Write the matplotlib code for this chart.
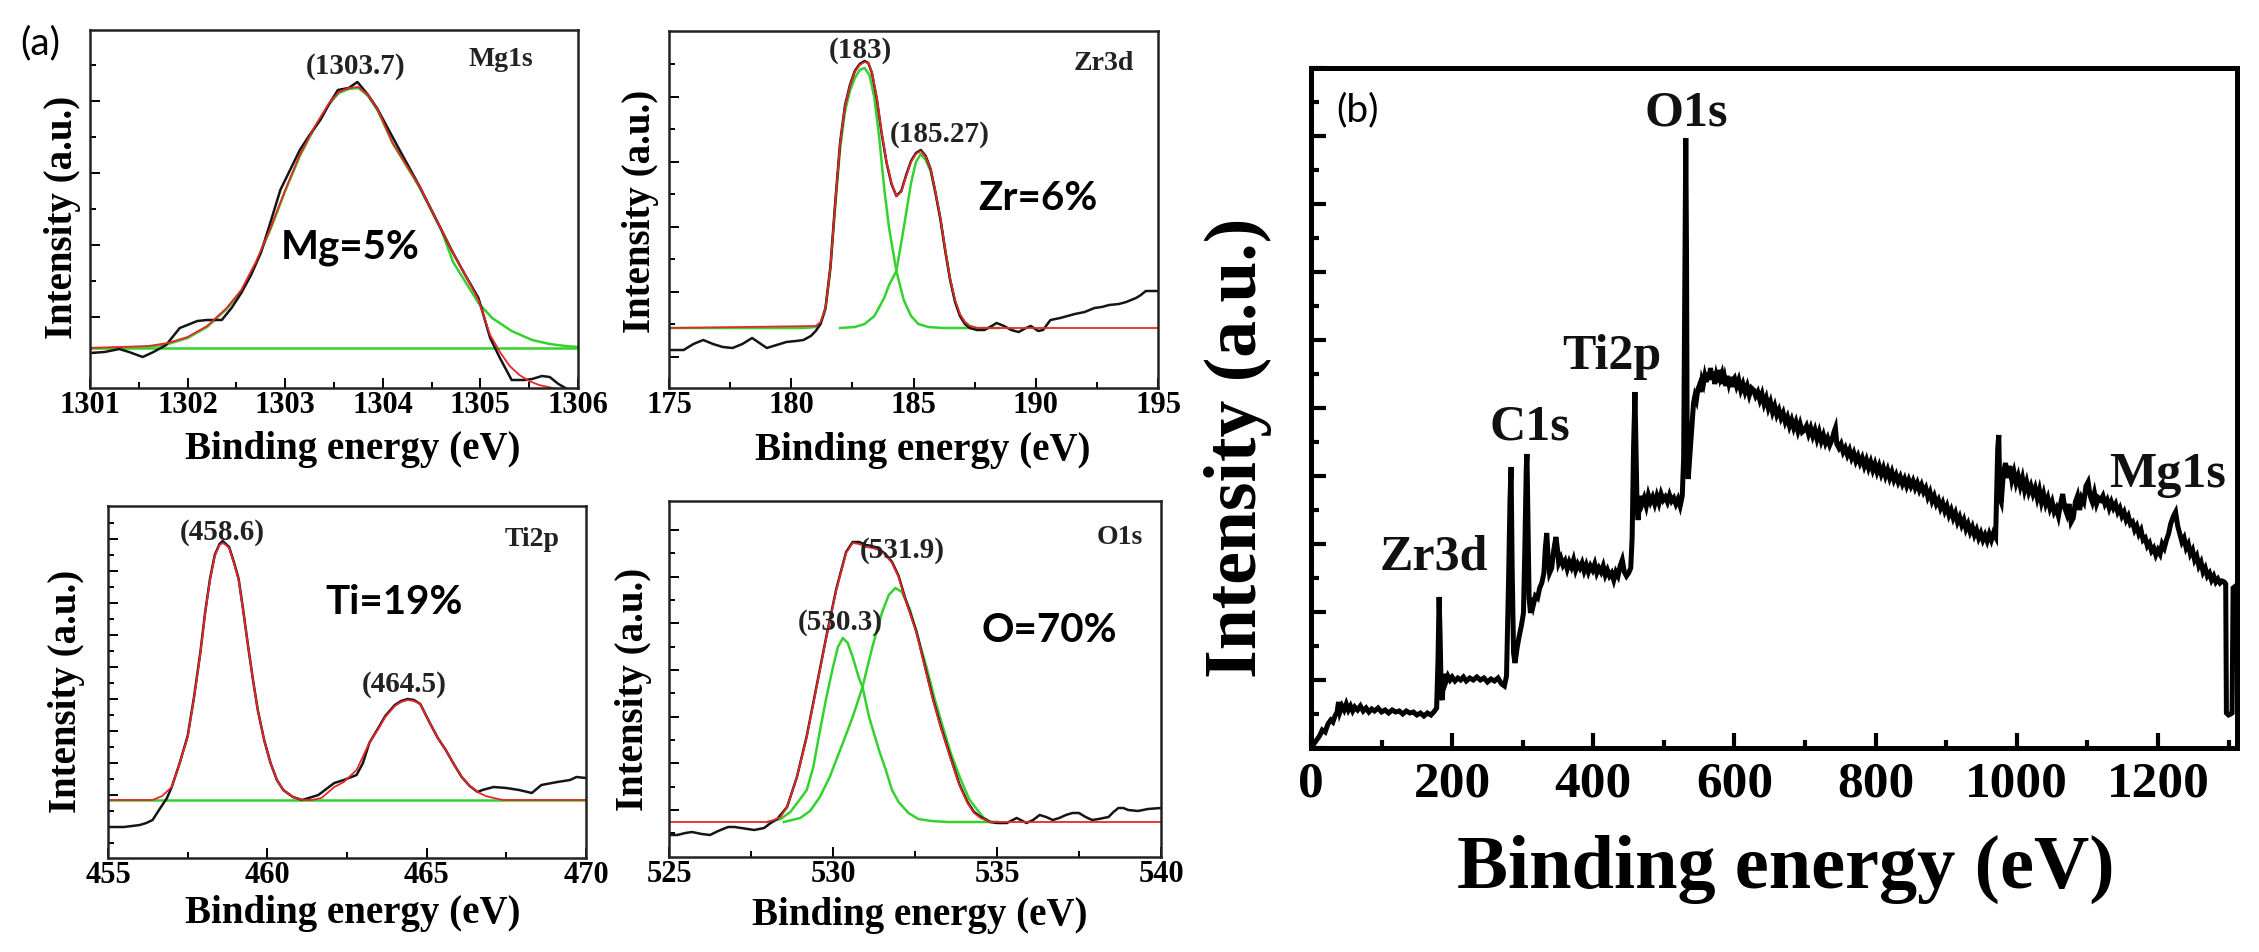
import numpy as np
import matplotlib
matplotlib.use("Agg")
import matplotlib.pyplot as plt
from matplotlib.ticker import MultipleLocator, FixedLocator

plt.rcParams['font.family'] = ['Liberation Serif', 'DejaVu Serif']
plt.rcParams['font.weight'] = 'bold'
SANS = ['Lato', 'DejaVu Sans']

# ---------------- Mg1s (intensity in a.u.) ----------------
mg_data_e = [1301.0, 1301.15, 1301.3, 1301.4, 1301.54, 1301.65, 1301.78, 1301.92, 1302.1, 1302.2,
             1302.35, 1302.45, 1302.55, 1302.65, 1302.75, 1302.85, 1302.95, 1303.05, 1303.15, 1303.25,
             1303.36, 1303.45, 1303.54, 1303.65, 1303.74, 1303.85, 1303.94, 1304.05, 1304.2, 1304.38,
             1304.55, 1304.72, 1304.85, 1304.98, 1305.1, 1305.2, 1305.32, 1305.45, 1305.53, 1305.63,
             1305.71, 1305.8, 1305.87, 1305.95]
mg_data_i = [35, 36, 39, 36, 31, 36, 43, 60, 67, 68,
             68, 80, 95, 113, 135, 166, 198, 218, 238, 253,
             268, 284, 298, 300, 306, 293, 280, 260, 233, 201,
             168, 135, 112, 90, 50, 30, 8, 8, 9, 12,
             11, 4, 0, -4]
mg_fit_e = [1301.0, 1301.3, 1301.6, 1301.8, 1302.0, 1302.2, 1302.4, 1302.55, 1302.7, 1302.85,
            1303.0, 1303.15, 1303.3, 1303.45, 1303.55, 1303.65, 1303.75, 1303.85, 1303.95, 1304.1,
            1304.38, 1304.55, 1304.72, 1304.85, 1304.98, 1305.1, 1305.2, 1305.3, 1305.4, 1305.5,
            1305.6, 1305.74, 1305.85]
mg_fit_i = [40, 41, 42, 45, 51, 62, 80, 98, 126, 160,
            198, 233, 261, 285, 296, 300, 301, 293, 278, 245,
            201, 168, 135, 112, 88, 53, 36, 22, 13, 7,
            3, 0, -2]
mg_comp_e = [1301.0, 1301.3, 1301.6, 1301.8, 1302.0, 1302.2, 1302.4, 1302.55, 1302.7, 1302.85,
             1303.0, 1303.15, 1303.3, 1303.45, 1303.55, 1303.65, 1303.75, 1303.85, 1303.95, 1304.1,
             1304.38, 1304.6, 1304.72, 1304.98, 1305.12, 1305.32, 1305.53, 1305.71, 1305.87, 1306.0]
mg_comp_i = [40, 40, 41, 44, 50, 61, 79, 97, 125, 159,
             197, 232, 260, 284, 295, 299, 300, 292, 277, 245,
             200, 158, 126, 85, 70, 57, 48, 44, 42, 41]
mg_base = 40

# ---------------- Zr3d ----------------
zr_data_e = [175.0, 175.6, 176.0, 176.4, 176.8, 177.2, 177.6, 178.0, 178.4, 178.7,
             179.0, 179.4, 179.8, 180.2, 180.5, 180.8, 181.0, 181.2, 181.4, 181.6,
             181.8, 182.0, 182.2, 182.4, 182.6, 182.8, 183.0, 183.15, 183.3, 183.5,
             183.7, 183.9, 184.1, 184.3, 184.5, 184.7, 184.9, 185.1, 185.3, 185.5,
             185.7, 185.9, 186.1, 186.3, 186.5, 186.7, 186.9, 187.1, 187.3, 187.6,
             187.9, 188.2, 188.4, 188.7, 189.0, 189.3, 189.6, 189.8, 190.1, 190.3,
             190.6, 191.0, 191.6, 192.0, 192.4, 192.7, 193.0, 193.4, 193.7, 194.1,
             194.3, 194.5, 194.8, 195.0]
zr_data_i = [38, 38, 44, 48, 44, 41, 40, 44, 50, 45,
             40, 43, 46, 47, 48, 52, 57, 64, 80, 121,
             186, 246, 283, 303, 317, 324, 327, 325, 315, 289,
             254, 225, 204, 192, 197, 213, 227, 235, 238, 232,
             219, 195, 169, 137, 108, 86, 72, 64, 60, 58,
             58, 62, 65, 62, 58, 56, 60, 62, 57, 58,
             68, 70, 74, 76, 80, 81, 83, 84, 86, 90,
             93, 97, 97, 97]
zr_fit_e = [175.0, 181.0, 181.2, 181.4, 181.6, 181.8, 182.0, 182.2, 182.4, 182.6,
            182.8, 183.0, 183.15, 183.3, 183.5, 183.7, 183.9, 184.1, 184.3, 184.5,
            184.7, 184.9, 185.1, 185.3, 185.5, 185.7, 185.9, 186.1, 186.3, 186.5,
            186.7, 186.9, 187.1, 187.3, 187.6, 195.0]
zr_fit_i = [60, 62, 66, 80, 120, 185, 245, 282, 302, 316,
            323, 326, 325, 316, 290, 255, 226, 205, 192, 196,
            212, 226, 234, 237, 231, 219, 196, 170, 138, 109,
            88, 74, 66, 62, 60, 60]
zr_comp1_e = [175.0, 180.5, 181.0, 181.2, 181.4, 181.6, 181.8, 182.0, 182.2, 182.4,
              182.6, 182.8, 183.0, 183.2, 183.4, 183.6, 183.8, 184.0, 184.3, 184.6,
              184.9, 185.2, 185.6, 186.2, 187.5]
zr_comp1_i = [60, 60, 61, 65, 79, 118, 182, 240, 277, 297,
              310, 318, 320, 313, 290, 250, 200, 160, 117, 88,
              72, 64, 61, 60, 60]
zr_comp2_e = [182.0, 182.6, 183.0, 183.4, 183.8, 184.0, 184.3, 184.6, 184.9, 185.1,
              185.3, 185.5, 185.7, 185.9, 186.1, 186.3, 186.5, 186.7, 186.9, 187.1,
              187.3, 187.6, 188.5]
zr_comp2_i = [60, 61, 64, 72, 90, 103, 117, 160, 205, 226,
              234, 228, 217, 195, 169, 137, 108, 87, 73, 66,
              62, 60, 60]

# ---------------- Ti2p ----------------
ti_fit_e = [455.0, 456.4, 456.7, 457.0, 457.25, 457.5, 457.7, 457.9, 458.05, 458.2,
            458.35, 458.5, 458.6, 458.7, 458.8, 458.95, 459.1, 459.25, 459.4, 459.55,
            459.7, 459.9, 460.1, 460.3, 460.5, 460.8, 461.1, 461.4, 461.7, 462.1,
            462.4, 462.8, 463.2, 463.5, 463.7, 464.0, 464.2, 464.4, 464.6, 464.8,
            465.1, 465.35, 465.6, 465.85, 466.1, 466.35, 466.6, 466.85, 467.1, 467.4, 470.0]
ti_fit_i = [58, 58, 62, 71, 95, 121, 160, 205, 245, 278,
            302, 313, 315, 313, 310, 295, 278, 245, 211, 178,
            148, 118, 95, 78, 68, 61, 58, 58, 60, 71,
            76, 88, 115, 130, 141, 152, 156, 158, 157, 154,
            135, 120, 108, 94, 81, 72, 66, 62, 60, 58, 58]
ti_data_e = [455.0, 455.5, 456.0, 456.2, 456.4, 456.6, 456.85, 457.0, 457.25, 457.5,
             457.7, 457.9, 458.05, 458.2, 458.35, 458.5, 458.6, 458.7, 458.8, 458.95,
             459.1, 459.25, 459.4, 459.55, 459.7, 459.9, 460.1, 460.3, 460.5, 460.8,
             461.1, 461.6, 462.1, 462.4, 462.8, 463.0, 463.2, 463.5, 463.7, 464.0,
             464.2, 464.4, 464.6, 464.8, 465.1, 465.35, 465.6, 465.85, 466.1, 466.35,
             466.6, 466.75, 467.1, 467.5, 467.9, 468.3, 468.6, 469.1, 469.5, 469.7, 470.0]
ti_data_i = [31, 31, 33, 35, 38, 48, 60, 71, 95, 122,
             161, 206, 246, 279, 303, 314, 317, 314, 311, 296,
             279, 246, 211, 178, 148, 118, 95, 78, 68, 61,
             58, 63, 75, 78, 83, 95, 115, 131, 142, 153,
             157, 159, 158, 154, 135, 120, 108, 94, 81, 72,
             66, 68, 71, 70, 68, 65, 73, 76, 78, 81, 80]
ti_base = 58

# ---------------- O1s ----------------
o_fit_e = [525.0, 528.0, 528.2, 528.4, 528.6, 528.9, 529.2, 529.5, 529.8, 530.1,
           530.4, 530.6, 530.8, 531.0, 531.2, 531.4, 531.6, 531.8, 532.0, 532.2,
           532.55, 532.8, 533.05, 533.3, 533.6, 533.85, 534.1, 534.3, 534.5, 534.8, 540.0]
o_fit_i = [35, 35, 37, 40, 50, 80, 120, 170, 220, 267,
           304, 314, 313, 310, 309, 307, 302, 294, 280, 258,
           224, 190, 157, 128, 97, 72, 54, 44, 39, 35, 35]
o_data_e = [525.0, 525.25, 525.5, 525.7, 526.0, 526.25, 526.5, 526.8, 527.0, 527.2,
            527.4, 527.6, 527.9, 528.1, 528.3, 528.6, 528.9, 529.2, 529.5, 529.8,
            530.1, 530.4, 530.6, 530.8, 531.0, 531.2, 531.4, 531.6, 531.8, 532.0,
            532.2, 532.55, 532.8, 533.05, 533.3, 533.6, 533.85, 534.1, 534.3, 534.5,
            534.8, 535.0, 535.3, 535.6, 535.9, 536.1, 536.3, 536.5, 536.7, 536.9,
            537.1, 537.3, 537.5, 537.7, 537.9, 538.1, 538.4, 538.55, 538.7, 538.85,
            539.0, 539.3, 539.6, 540.0]
o_data_i = [22, 22, 24, 25, 23, 22, 26, 30, 30, 29,
            28, 27, 29, 34, 38, 50, 80, 121, 171, 221,
            268, 305, 315, 315, 312, 311, 308, 303, 295, 281,
            259, 225, 191, 158, 129, 98, 73, 55, 45, 40,
            35, 34, 34, 39, 34, 37, 42, 40, 37, 39,
            42, 44, 44, 40, 37, 38, 40, 45, 49, 49,
            47, 46, 48, 49]
o_comp1_e = [528.0, 528.4, 528.7, 529.0, 529.2, 529.4, 529.6, 529.8, 530.0, 530.15,
             530.3, 530.45, 530.6, 530.8, 530.9, 531.1, 531.4, 531.6, 531.8, 532.0,
             532.3, 532.6, 533.0, 533.5, 535.0]
o_comp1_i = [35, 38, 45, 58, 67, 90, 126, 160, 190, 210,
             219, 214, 200, 178, 170, 140, 107, 88, 67, 55,
             44, 38, 36, 35, 35]
o_comp2_e = [528.5, 529.0, 529.3, 529.6, 529.9, 530.3, 530.6, 530.9, 531.2, 531.5,
             531.7, 531.9, 532.1, 532.35, 532.6, 532.85, 533.1, 533.35, 533.6, 533.9,
             534.15, 534.4, 534.6, 534.8, 535.0]
o_comp2_i = [35, 39, 46, 60, 80, 114, 140, 170, 210, 245,
             262, 269, 265, 247, 218, 190, 158, 130, 103, 77,
             58, 47, 39, 35, 35]

# ---------------- survey (b) ----------------
survey_e = [0, 4, 8, 12, 16, 20, 24, 28, 31, 34, 37, 39, 41, 44, 47, 50, 53, 56, 59, 62,
            66, 70, 74, 78, 82, 86, 90, 95, 100, 105, 110, 115, 120, 125, 130, 135, 140, 145, 150, 155,
            160, 165, 170, 174, 178, 180, 181.5, 183, 184.5, 186, 188, 191, 194, 197, 200, 204, 208, 212, 216, 220,
            225, 230, 235, 240, 245, 250, 255, 260, 265, 270, 274, 277, 280, 282, 283.5, 285, 287, 289, 292, 295,
            298, 301, 303, 305, 306, 307.5, 309, 311, 313, 315, 318, 321, 324, 327, 330, 332, 334, 336, 338, 341,
            344, 347, 349, 351, 354, 357, 360, 363, 366, 369, 372, 375, 378, 381, 384, 387, 390, 393, 396, 399,
            402, 405, 408, 411, 414, 417, 420, 423, 426, 429, 432, 435, 438, 441, 444, 447, 450, 453, 455, 457,
            459, 460.5, 462, 463.5, 466, 469, 472, 475, 478, 481, 484, 487, 490, 493, 496, 499, 502, 505, 508, 511,
            514, 517, 520, 523, 526, 528, 529.5, 531, 532, 533, 534.5, 536, 538, 540, 542, 544, 546, 548, 550, 552,
            554, 556, 558, 560, 562, 564, 566, 568, 570, 572, 574, 576, 578, 580, 582, 584, 586, 588, 590, 592,
            594, 596, 598, 600, 603, 606, 609, 612, 615, 618, 621, 624, 627, 630, 633, 636, 639, 642, 645, 648,
            651, 654, 657, 660, 663, 666, 669, 672, 675, 678, 681, 684, 687, 690, 693, 696, 699, 702, 705, 708,
            711, 714, 717, 720, 723, 726, 729, 732, 735, 738, 741, 743, 745, 748, 751, 754, 757, 760, 763, 766,
            769, 772, 775, 778, 781, 784, 787, 790, 793, 796, 799, 802, 805, 808, 811, 814, 817, 820, 823, 826,
            829, 832, 835, 838, 841, 844, 847, 850, 853, 856, 859, 862, 865, 868, 871, 874, 877, 880, 883, 886,
            889, 892, 895, 898, 901, 904, 907, 910, 913, 916, 919, 922, 925, 928, 931, 934, 937, 940, 943, 946,
            949, 952, 955, 958, 961, 964, 967, 970, 973, 974.5, 976, 978, 981, 984, 987, 990, 993, 996, 999, 1002,
            1005, 1008, 1011, 1014, 1017, 1020, 1023, 1026, 1029, 1032, 1035, 1038, 1041, 1044, 1047, 1050, 1053, 1056, 1059, 1062,
            1065, 1068, 1071, 1074, 1077, 1080, 1083, 1086, 1089, 1092, 1095, 1098, 1101, 1104, 1107, 1110, 1113, 1116, 1119, 1122,
            1125, 1128, 1131, 1134, 1137, 1140, 1143, 1146, 1149, 1152, 1155, 1158, 1161, 1164, 1167, 1170, 1173, 1176, 1179, 1182,
            1185, 1188, 1191, 1194, 1197, 1200, 1203, 1206, 1209, 1212, 1215, 1218, 1222, 1225, 1228, 1231, 1234, 1237, 1240, 1243,
            1246, 1249, 1252, 1255, 1258, 1261, 1264, 1267, 1270, 1273, 1276, 1279, 1282, 1285, 1288, 1291, 1294, 1296, 1297, 1300,
            1303, 1305, 1306.5, 1310]
survey_i = [10, 4, 8, 12, 18, 16, 24, 28, 26, 32, 36, 46, 36, 42, 38, 44, 38, 42, 37, 41,
            38, 42, 37, 40, 36, 39, 37, 40, 36, 38, 35, 38, 36, 37, 34, 37, 35, 36, 33, 35,
            32, 35, 33, 36, 40, 90, 151, 110, 52, 48, 74, 66, 72, 68, 71, 67, 70, 68, 71, 67,
            70, 68, 71, 68, 70, 66, 69, 67, 70, 64, 62, 72, 170, 250, 281, 180, 95, 85, 100, 112,
            122, 135, 200, 280, 294, 220, 150, 135, 150, 143, 152, 150, 160, 165, 175, 200, 215, 190, 175, 180,
            198, 211, 200, 185, 190, 183, 187, 179, 186, 181, 188, 178, 184, 180, 185, 177, 183, 176, 182, 178,
            184, 175, 180, 176, 182, 173, 178, 172, 175, 168, 176, 172, 182, 188, 176, 172, 175, 180, 210, 300,
            356, 300, 240, 228, 252, 244, 250, 242, 253, 246, 251, 244, 252, 245, 254, 248, 251, 246, 253, 247,
            250, 244, 249, 242, 252, 290, 450, 610, 500, 300, 269, 285, 305, 325, 345, 352, 348, 358, 362, 356,
            368, 364, 372, 366, 375, 368, 380, 370, 376, 364, 372, 366, 378, 370, 374, 364, 370, 362, 372, 365,
            371, 361, 368, 370, 362, 368, 358, 364, 356, 362, 353, 360, 358, 352, 356, 348, 354, 344, 350, 340,
            346, 336, 342, 333, 338, 330, 335, 326, 331, 322, 328, 320, 326, 317, 324, 316, 318, 322, 314, 320,
            312, 318, 309, 316, 307, 313, 305, 310, 303, 308, 316, 320, 304, 300, 304, 296, 300, 293, 298, 290,
            295, 287, 292, 285, 290, 282, 288, 280, 286, 278, 284, 276, 282, 274, 280, 272, 278, 270, 276, 268,
            273, 266, 271, 264, 269, 262, 268, 262, 267, 260, 265, 258, 263, 256, 260, 251, 256, 247, 252, 244,
            248, 240, 245, 237, 242, 233, 238, 230, 235, 226, 231, 223, 228, 219, 224, 216, 221, 213, 218, 210,
            215, 208, 213, 207, 214, 208, 215, 211, 300, 313, 250, 246, 275, 285, 270, 282, 268, 276, 265, 272,
            262, 270, 258, 266, 256, 262, 254, 260, 250, 258, 246, 254, 244, 250, 240, 246, 236, 240, 232, 244,
            254, 240, 234, 244, 226, 230, 246, 252, 238, 250, 246, 262, 266, 252, 246, 255, 244, 250, 248, 252,
            244, 248, 240, 246, 240, 244, 236, 240, 232, 236, 228, 232, 224, 226, 218, 222, 214, 218, 208, 210,
            202, 205, 197, 200, 193, 198, 194, 204, 200, 208, 214, 224, 232, 236, 222, 214, 206, 210, 200, 204,
            194, 198, 188, 192, 182, 186, 176, 180, 172, 175, 168, 172, 166, 169, 165, 167, 166, 164, 35, 33,
            34, 35, 160, 162]

survey_peaks = ['Zr3d', 'C1s', 'Ti2p', 'O1s', 'Mg1s']
survey_peak_pos = [(174, 191), (310, 320), (426, 391), (531, 635), (1213, 273)]

BLACK = '#151515'
RED = '#e8262a'
GREEN = '#35d12e'

fig = plt.figure(figsize=(22.59, 9.52), dpi=100)
W, H = 2259.0, 952.0


def make_axes(x0, x1, y0, y1):
    return fig.add_axes([x0 / W, 1 - y1 / H, (x1 - x0) / W, (y1 - y0) / H])


def style_small(ax, xlim, ylim, xmaj, xmin, ymaj, ymin):
    ax.set_xlim(*xlim)
    ax.set_ylim(*ylim)
    ax.xaxis.set_major_locator(MultipleLocator(xmaj))
    ax.xaxis.set_minor_locator(MultipleLocator(xmin))
    ax.yaxis.set_major_locator(FixedLocator(ymaj))
    ax.yaxis.set_minor_locator(FixedLocator(ymin))
    ax.tick_params(which='both', direction='in', width=1.4, labelleft=False, pad=2, labelsize=22)
    ax.tick_params(which='major', length=7)
    ax.tick_params(which='minor', length=4)
    for sp in ax.spines.values():
        sp.set_linewidth(1.8)
        sp.set_color('#222222')


def small_labels(ax, xl, yl):
    ax.set_xlabel('Binding energy (eV)', fontsize=28, fontweight='bold', va='center')
    ax.set_ylabel('Intensity (a.u.)', fontsize=28, fontweight='bold', va='center')
    ax.xaxis.set_label_coords(*xl)
    ax.yaxis.set_label_coords(*yl)


# Mg1s
ax1 = make_axes(90, 578, 30, 388)
ax1.plot([1301, 1306], [mg_base, mg_base], color=GREEN, lw=1.8)
ax1.plot(mg_comp_e, mg_comp_i, color=GREEN, lw=1.8)
ax1.plot(mg_data_e, mg_data_i, color=BLACK, lw=1.8)
ax1.plot(mg_fit_e, mg_fit_i, color=RED, lw=1.3)
style_small(ax1, (1301, 1306), (0, 358), 1, 0.5, [71, 143, 215, 287], [35, 107, 179, 251, 323])
small_labels(ax1, (0.539, -0.173), (-0.057, 0.478))
ax1.text(1303.72, 321, '(1303.7)', ha='center', va='center', fontsize=21, color='#222222')
ax1.text(1305.21, 329, 'Mg1s', ha='center', va='center', fontsize=20, color='#222222')
ax1.text(1303.67, 140, 'Mg=5%', ha='center', va='center', fontsize=29, family=SANS, fontweight='bold')

# Zr3d
ax2 = make_axes(669, 1158, 31, 388)
ax2.plot(zr_comp1_e, zr_comp1_i, color=GREEN, lw=1.8)
ax2.plot(zr_comp2_e, zr_comp2_i, color=GREEN, lw=1.8)
ax2.plot(zr_data_e, zr_data_i, color=BLACK, lw=1.8)
ax2.plot(zr_fit_e, zr_fit_i, color=RED, lw=1.3)
style_small(ax2, (175, 195), (0, 357), 5, 2.5, [31, 96, 161, 226, 291], [64, 129, 194, 259, 324])
small_labels(ax2, (0.518, -0.174), (-0.059, 0.494))
ax2.text(182.83, 338, '(183)', ha='center', va='center', fontsize=21, color='#222222')
ax2.text(186.07, 253, '(185.27)', ha='center', va='center', fontsize=21, color='#222222')
ax2.text(192.79, 325, 'Zr3d', ha='center', va='center', fontsize=20, color='#222222')
ax2.text(190.08, 189, 'Zr=6%', ha='center', va='center', fontsize=29, family=SANS, fontweight='bold')

# Ti2p
ax3 = make_axes(108, 586, 506, 858)
ax3.plot([455, 470], [ti_base, ti_base], color=GREEN, lw=1.8)
ax3.plot(ti_data_e, ti_data_i, color=BLACK, lw=1.8)
ax3.plot(ti_fit_e, ti_fit_i, color=RED, lw=1.3)
style_small(ax3, (455, 470), (0, 352), 5, 2.5,
            [31, 63, 95, 127, 159, 191, 223, 255, 287, 319],
            [15, 47, 79, 111, 143, 175, 207, 239, 271, 303, 335])
small_labels(ax3, (0.513, -0.159), (-0.086, 0.472))
ax3.text(458.6, 326, '(458.6)', ha='center', va='center', fontsize=21, color='#222222')
ax3.text(464.31, 174, '(464.5)', ha='center', va='center', fontsize=21, color='#222222')
ax3.text(468.32, 319, 'Ti2p', ha='center', va='center', fontsize=20, color='#222222')
ax3.text(463.97, 256, 'Ti=19%', ha='center', va='center', fontsize=29, family=SANS, fontweight='bold')

# O1s
ax4 = make_axes(669, 1161, 501, 857)
ax4.plot(o_comp1_e, o_comp1_i, color=GREEN, lw=1.8)
ax4.plot(o_comp2_e, o_comp2_i, color=GREEN, lw=1.8)
ax4.plot(o_data_e, o_data_i, color=BLACK, lw=1.8)
ax4.plot(o_fit_e, o_fit_i, color=RED, lw=1.3)
style_small(ax4, (525, 540), (0, 356), 5, 2.5,
            [47, 94, 140, 187, 234, 280, 327], [24, 70, 117, 164, 210, 257, 304])
small_labels(ax4, (0.510, -0.163), (-0.073, 0.472))
ax4.text(530.21, 234, '(530.3)', ha='center', va='center', fontsize=21, color='#222222')
ax4.text(532.1, 307, '(531.9)', ha='center', va='center', fontsize=21, color='#222222')
ax4.text(538.75, 320, 'O1s', ha='center', va='center', fontsize=20, color='#222222')
ax4.text(536.59, 227, 'O=70%', ha='center', va='center', fontsize=29, family=SANS, fontweight='bold')

fig.text(40 / W, 1 - 43 / H, '(a)', ha='center', va='center', fontsize=28, family=SANS, fontweight='normal')

# survey
axb = make_axes(1311, 2237, 68, 748)
axb.plot(survey_e, survey_i, color='black', lw=3.6, solid_joinstyle='miter')
axb.set_xlim(0, 1312)
axb.set_ylim(0, 680)
axb.xaxis.set_major_locator(MultipleLocator(200))
axb.xaxis.set_minor_locator(MultipleLocator(100))
axb.yaxis.set_major_locator(MultipleLocator(68))
axb.yaxis.set_minor_locator(MultipleLocator(34))
axb.tick_params(which='both', direction='in', width=3, labelleft=False, pad=10, labelsize=37)
axb.tick_params(which='major', length=11)
axb.tick_params(which='minor', length=6)
for sp in axb.spines.values():
    sp.set_linewidth(3.6)
axb.set_xlabel('Binding energy (eV)', fontsize=55, fontweight='bold', va='center')
axb.set_ylabel('Intensity (a.u.)', fontsize=53, fontweight='bold', va='center')
axb.xaxis.set_label_coords(0.513, -0.179)
axb.yaxis.set_label_coords(-0.079, 0.441)
for name, (pe, pv) in zip(survey_peaks, survey_peak_pos):
    axb.text(pe, pv, name, ha='center', va='center', fontsize=36, fontweight='bold', color='#111111')
axb.text(66.5, 638, '(b)', ha='center', va='center', fontsize=28, family=SANS, fontweight='normal')

fig.savefig('out.png', dpi=100, facecolor='white')
